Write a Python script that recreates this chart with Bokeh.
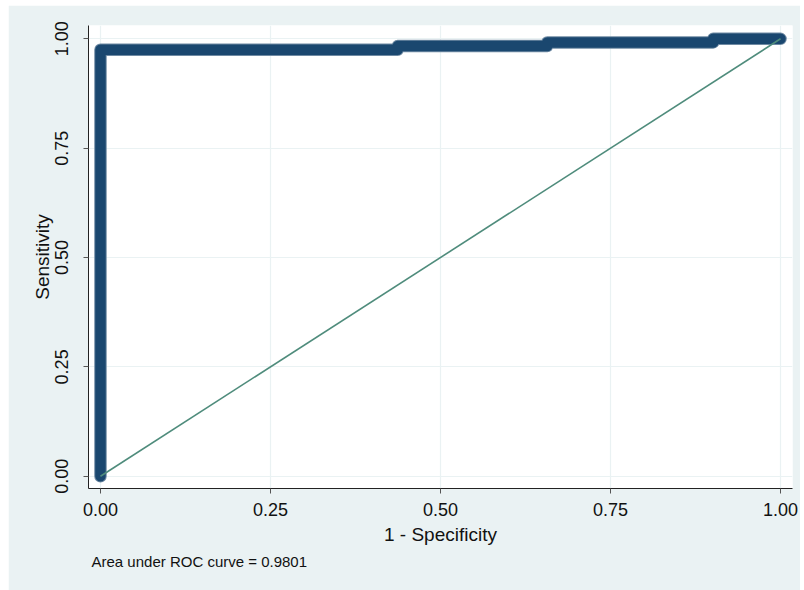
from bokeh.plotting import figure
from bokeh.models import Range1d, FixedTicker, Title
from bokeh.embed import file_html
from bokeh.resources import INLINE

# ROC curve vertices (1 - specificity, sensitivity)
fpr = [0.0, 0.0, 0.437, 0.437, 0.657, 0.657, 0.901, 0.901, 1.0]
tpr = [0.0, 0.975, 0.975, 0.9833, 0.9833, 0.9917, 0.9917, 1.0, 1.0]
ref_x = [0.0, 1.0]
ref_y = [0.0, 1.0]
ticks = [0.0, 0.25, 0.5, 0.75, 1.0]
tick_labels = {0.0: "0.00", 0.25: "0.25", 0.5: "0.50", 0.75: "0.75", 1.0: "1.00"}
auc_text = "Area under ROC curve = 0.9801"

BG = "#EAF2F3"
NAVY = "#1a476f"
EDGE = "#6f8aa3"
TEAL = "#4f8c7c"
FONT = "Liberation Sans"

p = figure(width=792, height=585, output_backend="svg", toolbar_location=None,
           x_range=Range1d(-0.0176, 1.0176), y_range=Range1d(-0.0281, 1.0304),
           min_border_left=80, min_border_right=8, min_border_top=20, min_border_bottom=102,
           margin=(5, 4, 0, 8))
p.background_fill_color = "white"
p.border_fill_color = BG
p.outline_line_color = None

for ax in (p.xaxis, p.yaxis):
    ax.ticker = FixedTicker(ticks=ticks)
    ax.major_label_overrides = tick_labels
    ax.minor_tick_line_color = None
    ax.major_tick_out = 5
    ax.major_tick_in = 0
    ax.axis_line_color = "#222222"
    ax.major_tick_line_color = "#555555"
    ax.major_label_text_font = FONT
    ax.major_label_text_font_size = "18px"
    ax.major_label_text_color = "#111111"
    ax.axis_label_text_font = FONT
    ax.axis_label_text_font_size = "19px"
    ax.axis_label_text_font_style = "normal"
    ax.axis_label_text_color = "#111111"

p.xaxis.axis_label = "1 - Specificity"
p.yaxis.axis_label = "Sensitivity"
p.yaxis.major_label_orientation = "vertical"
p.xaxis.major_label_standoff = 9
p.yaxis.major_label_standoff = 15
p.xaxis.axis_label_standoff = 5
p.yaxis.axis_label_standoff = 0

for g in (p.xgrid, p.ygrid):
    g.ticker = FixedTicker(ticks=ticks)
    g.grid_line_color = BG
    g.grid_line_width = 1.2

p.line(fpr, tpr, line_color=EDGE, line_width=12.5, line_join="round", line_cap="round")
p.line(fpr, tpr, line_color=NAVY, line_width=10.5, line_join="round", line_cap="round")
p.line(ref_x, ref_y, line_color=TEAL, line_width=1.6)

p.add_layout(Title(text=auc_text, align="left", offset=3, standoff=7,
                   text_font=FONT, text_font_size="15px", text_font_style="normal",
                   text_color="#111111"), "below")

open("out.html", "w").write(file_html(p, INLINE))
